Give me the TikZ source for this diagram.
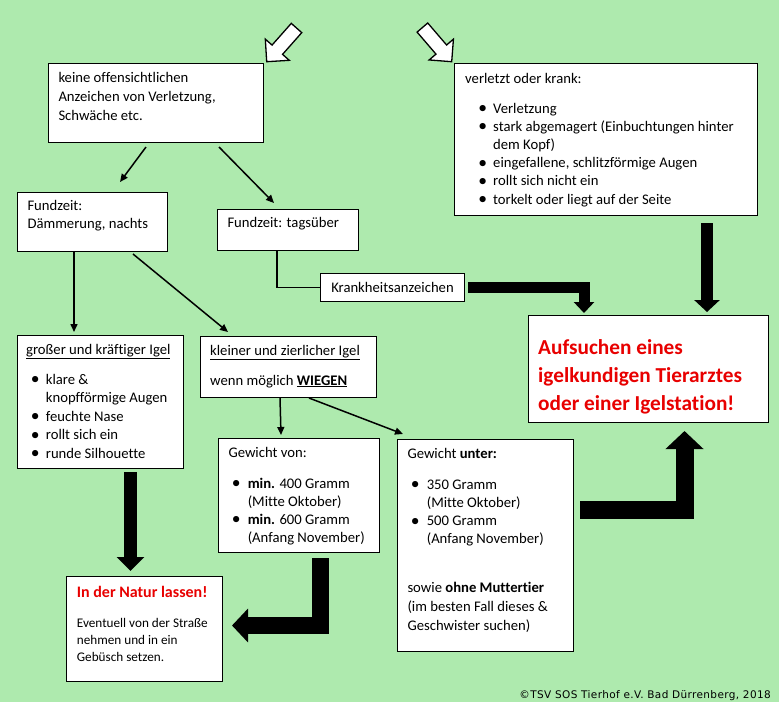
\documentclass[tikz,border=0pt]{standalone}
\usepackage{fontspec}
\usepackage{graphicx}
\setmainfont{Carlito}[Ligatures=NoCommon]
\newfontfamily\vfont{DejaVu Sans}[LetterSpace=3.6]
\usetikzlibrary{arrows.meta,calc}
\definecolor{bg}{RGB}{174,234,174}
\definecolor{alarm}{RGB}{232,0,0}
\newcommand\nl{\hfil\break}
\newcommand\bul{\smash{\raisebox{-0.6pt}{\scalebox{1.2}{\textbullet}}}}
\newcommand\bitem[3]{\par\hangindent=#2\hangafter=1\noindent\hspace*{#1}\makebox[0pt][c]{\bul}\hspace*{\dimexpr#2-#1\relax}\ignorespaces#3\par}
\newcommand\txt[2]{\begin{minipage}[t]{#1}\raggedright\parindent=0pt #2\end{minipage}}
\newcommand\body{\fontsize{14.67}{19}\selectfont}
\tikzset{
  boxs/.style={draw=black, fill=white, line width=1pt, inner sep=0pt, anchor=north west},
  tx/.style={anchor=base west, inner sep=0pt},
  thin/.style={line width=1.5pt, -{Triangle[length=8pt,width=7pt]}},
  fat/.style={line width=#1, line join=miter, draw=black},
  hollow/.style={draw=black, fill=white, line width=1.3pt, line join=miter}
}
\begin{document}
\begin{tikzpicture}[x=1pt,y=-1pt]
\useasboundingbox (0,0) rectangle (779,702);
\fill[bg] (0,0) rectangle (779,702);

% boxes
\node[boxs, minimum width=215pt, minimum height=79pt] (A) at (48,63) {};
\node[boxs, minimum width=303pt, minimum height=152pt] (B) at (454,63) {};
\node[boxs, minimum width=150pt, minimum height=59pt] (C) at (17,192) {};
\node[boxs, minimum width=141pt, minimum height=41pt] (D) at (217,209) {};
\node[boxs, minimum width=144pt, minimum height=28pt] (K) at (320,273) {\body Krankheitsanzeichen};
\node[boxs, minimum width=240pt, minimum height=107pt] (E) at (528,315) {};
\node[boxs, minimum width=166pt, minimum height=133pt] (F) at (17,335) {};
\node[boxs, minimum width=176pt, minimum height=61pt] (G) at (200,336) {};
\node[boxs, minimum width=161pt, minimum height=114pt] (H) at (218,438) {};
\node[boxs, minimum width=176pt, minimum height=212pt] (I) at (397,439) {};
\node[boxs, minimum width=156pt, minimum height=105pt] (J) at (66,576) {};

% texts
\node[tx] (tA) at (58.3,82) {\txt{200pt}{\fontsize{14.67}{19.4}\selectfont keine offensichtlichen\\Anzeichen von Verletzung,\\Schwäche etc.}};
\node[tx] (tB) at (465,83) {\txt{290pt}{\body verletzt oder krank:\par\fontsize{14.67}{18.2}\selectfont\vspace{11.8pt}
\bitem{17.5pt}{28pt}{Verletzung}
\bitem{17.5pt}{28pt}{stark abgemagert (Einbuchtungen hinter\nl dem Kopf)}
\bitem{17.5pt}{28pt}{eingefallene, schlitzförmige Augen}
\bitem{17.5pt}{28pt}{rollt sich nicht ein}
\bitem{17.5pt}{28pt}{torkelt oder liegt auf der Seite}}};
\node[tx] (tC) at (27.3,210) {\txt{135pt}{\fontsize{14.67}{18.5}\selectfont Fundzeit:\\Dämmerung, nachts}};
\node[tx] (tD) at (227.3,227.7) {\body Fundzeit: tagsüber};
\node[tx] (tE) at (538,340) {\txt{228pt}{\fontsize{21.3}{28}\selectfont\bfseries\color{alarm}Aufsuchen eines\\igelkundigen Tierarztes\\oder einer Igelstation!}};
\node[tx] (tF) at (26,354) {\txt{155pt}{\body\underline{großer und kräftiger Igel}\par\fontsize{14.67}{18.5}\selectfont\vspace{11.5pt}
\bitem{9pt}{19.7pt}{klare \&\nl knopfförmige Augen}
\bitem{9pt}{19.7pt}{feuchte Nase}
\bitem{9pt}{19.7pt}{rollt sich ein}
\bitem{9pt}{19.7pt}{runde Silhouette}}};
\node[tx] (tG) at (210,355) {\txt{165pt}{\body\underline{kleiner und zierlicher Igel}\par\vspace{11pt}
wenn möglich \underline{\textbf{WIEGEN}}}};
\node[tx] (tH) at (228.3,457) {\txt{150pt}{\body Gewicht von:\par\fontsize{14.67}{18}\selectfont\vspace{13pt}
\bitem{7.7pt}{19.3pt}{\textbf{min.} 400 Gramm\nl (Mitte Oktober)}
\bitem{7.7pt}{19.3pt}{\textbf{min.} 600 Gramm\nl (Anfang November)}}};
\node[tx] (tI) at (407.3,458) {\txt{165pt}{\body Gewicht \textbf{unter:}\par\fontsize{14.67}{18.2}\selectfont\vspace{12.8pt}
\bitem{7.7pt}{19.3pt}{350 Gramm\nl (Mitte Oktober)}
\bitem{7.7pt}{19.3pt}{500 Gramm\nl (Anfang November)}
\fontsize{14.67}{19}\selectfont\vspace{30pt}
sowie \textbf{ohne Muttertier}\\(im besten Fall dieses \&\\Geschwister suchen)}};
\node[tx] (tJ) at (76.7,597) {\txt{142pt}{\fontsize{16}{17}\selectfont\textbf{\color{alarm}In der Natur lassen!}\par\fontsize{13.2}{17}\selectfont\vspace{13pt}
Eventuell von der Straße\\nehmen und in ein\\Gebüsch setzen.}};
\node[anchor=base east, inner sep=0pt] (cp) at (771,698) {\vfont\fontsize{10.5}{12}\selectfont ©TSV SOS Tierhof e.V. Bad Dürrenberg, 2018};

% hollow entry arrows
\begin{scope}[shift={($(A.north east)+(2.7,-1.3)$)}, rotate=228.5]
\draw[hollow] (0,0) -- (-16,16) -- (-16,7) -- (-45,7) -- (-45,-7) -- (-16,-7) -- (-16,-16) -- cycle;
\end{scope}
\begin{scope}[shift={($(B.north west)+(-2.3,-1.3)$)}, rotate=-49.4]
\draw[hollow] (0,0) -- (-16,16) -- (-16,7) -- (-45,7) -- (-45,-7) -- (-16,-7) -- (-16,-16) -- cycle;
\end{scope}

% thin connectors
\draw[thin] ($(A.south west)+(98,4)$) -- ($(C.north west)+(103,-10)$);
\draw[thin] ($(A.south west)+(171,4)$) -- ($(D.north west)+(57,-6)$);
\draw[thin] ($(C.south west)+(57,0)$) -- ($(F.north west)+(57,-3)$);
\draw[thin] ($(C.south west)+(116,2)$) -- ($(G.north west)+(28,-4)$);
\draw[thin] ($(G.south west)+(80,0)$) -- ($(H.north west)+(63,-3)$);
\draw[thin] ($(G.south west)+(109,0)$) -- ($(I.north west)+(6,-5)$);
\draw[line width=1.5pt] ($(D.south west)+(60,0)$) |- (K.west);

% thick arrows
\draw[fat=11pt, -{Triangle[length=11pt,width=20pt]}] ($(K.east)+(3,0)$) -| ($(E.north west)+(56,-2)$);
\draw[fat=12pt, -{Triangle[length=12pt,width=25pt]}] ($(B.south west)+(253,7)$) -- ($(E.north west)+(179,-3)$);
\draw[fat=13pt, -{Triangle[length=14pt,width=27pt]}] ($(F.south west)+(113.5,3)$) -- ($(J.north west)+(64.5,-5)$);
\draw[fat=16.5pt, -{Triangle[length=16pt,width=33pt]}] ($(H.south west)+(102.5,5)$) |- ($(J.east)+(9,-3.5)$);
\draw[fat=18pt, -{Triangle[length=18pt,width=37pt]}] ($(I.east)+(6,-36)$) -| ($(E.south west)+(156.5,8)$);
\end{tikzpicture}
\end{document}
